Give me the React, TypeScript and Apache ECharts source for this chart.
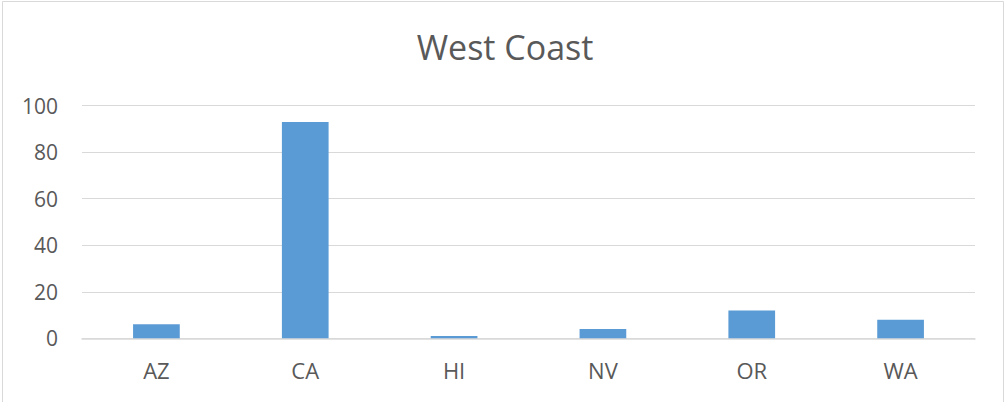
import React, { useEffect, useRef } from "react";
import * as echarts from "echarts";

const categories = ["AZ", "CA", "HI", "NV", "OR", "WA"];
const values = [6, 93, 1, 4, 12, 8];
const yTicks = { min: 0, max: 100, interval: 20 };
const titleText = "West Coast";

export default function App() {
  const ref = useRef<HTMLDivElement>(null);
  useEffect(() => {
    if (!ref.current) return;
    const chart = echarts.init(ref.current, null, { renderer: "svg" });
    chart.setOption({
      animation: false,
      backgroundColor: "#ffffff",
      title: {
        text: titleText,
        left: 500,
        textAlign: "center",
        top: 25,
        textStyle: {
          fontFamily: "Open Sans",
          fontSize: 34,
          fontWeight: "normal",
          color: "#595959",
        },
      },
      graphic: [
        {
          type: "rect",
          shape: { x: 2.5, y: 1.5, width: 1001, height: 420 },
          style: { fill: "none", stroke: "#d9d9d9", lineWidth: 1 },
          silent: true,
        },
      ],
      grid: { left: 82, right: 30, top: 105.7, bottom: 63.7 },
      xAxis: {
        type: "category",
        data: categories,
        axisLine: { show: true, lineStyle: { color: "#d9d9d9", width: 1.5 } },
        axisTick: { show: false },
        axisLabel: {
          fontFamily: "Open Sans",
          fontSize: 22,
          color: "#595959",
          margin: 21,
        },
      },
      yAxis: {
        type: "value",
        min: yTicks.min,
        max: yTicks.max,
        interval: yTicks.interval,
        axisLine: { show: false },
        axisTick: { show: false },
        splitLine: { lineStyle: { color: "#d9d9d9", width: 1.2 } },
        axisLabel: {
          fontFamily: "Open Sans",
          fontSize: 21,
          color: "#595959",
          margin: 24,
        },
      },
      series: [
        {
          type: "bar",
          data: values,
          barWidth: 46.7,
          itemStyle: { color: "#5b9bd5" },
        },
      ],
    });
    return () => chart.dispose();
  }, []);
  return (
    <div
      ref={ref}
      style={{ position: "fixed", left: 0, top: 0, width: 1005, height: 402 }}
    />
  );
}
